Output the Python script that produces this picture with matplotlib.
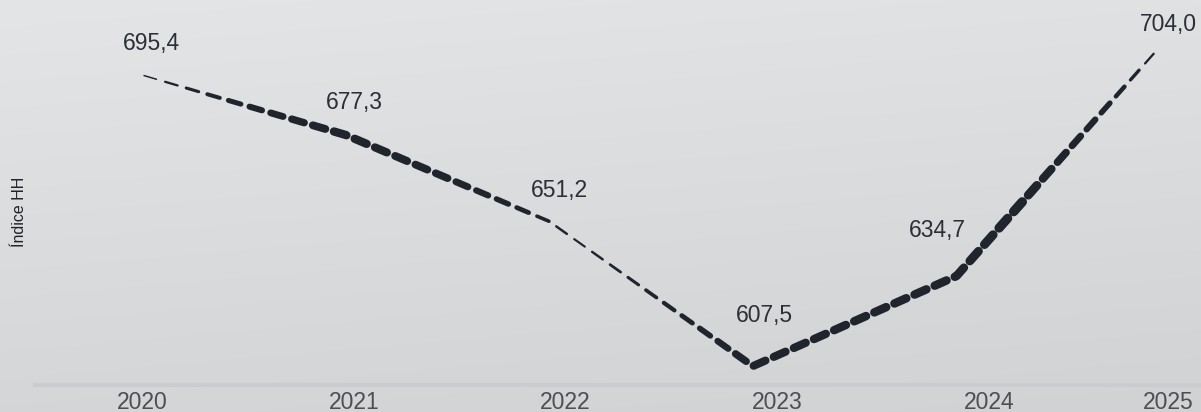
import numpy as np
import matplotlib
matplotlib.use("Agg")
import matplotlib.pyplot as plt
from matplotlib.collections import LineCollection

plt.rcParams['font.family'] = ['Liberation Sans', 'DejaVu Sans']

years = [2020, 2021, 2022, 2023, 2024, 2025]
values = [695.4, 677.3, 651.2, 607.5, 634.7, 704.0]
value_labels = ['695,4', '677,3', '651,2', '607,5', '634,7', '704,0']
tick_labels = ['2020', '2021', '2022', '2023', '2024', '2025']

# tick label positions sit a bit off the points in the original
tick_pos = [2020.0, 2021.04, 2022.08, 2023.12, 2024.16, 2025.04]
# label offsets in pixels (dx, dy)
label_off = [(9, 32), (9, 32), (10, 31), (12, 51), (-19, 46), (8, 22)]

# stroke width profile (px) along x
w_x = [2020.0, 2020.3, 2020.6, 2021.0, 2021.5, 2021.9, 2022.1, 2022.4, 2022.7, 2023.0, 2023.5, 2024.0, 2024.3, 2024.7, 2025.0]
w_px = [1.2, 3.5, 6.5, 8.5, 7.5, 4.5, 2.0, 3.0, 5.0, 8.0, 8.5, 8.5, 9.5, 6.0, 1.5]

W, H = 12.01, 4.12
fig = plt.figure(figsize=(W, H), dpi=100)

# background gradient
bg = fig.add_axes([0, 0, 1, 1])
gy, gx = np.mgrid[0:1:200j, 0:1:400j]
t = 0.8 * gy + 0.2 * gx
top = np.array([0xe4, 0xe5, 0xe7]) / 255
bot = np.array([0xd1, 0xd2, 0xd4]) / 255
img = top[None, None, :] * (1 - t[..., None]) + bot[None, None, :] * t[..., None]
bg.imshow(img, aspect='auto', extent=[0, 1, 1, 0])
bg.set_axis_off()

ax = fig.add_axes([35 / 1201, 1 - 385 / 412, 1 - 35 / 1201, 385 / 412])
ax.patch.set_alpha(0)
ax.set_xlim(2019.474, 2025.201)
ax.set_ylim(601.8, 718.05)

for s in ['top', 'right', 'left']:
    ax.spines[s].set_visible(False)
ax.spines['bottom'].set_color('#cbcccf')
ax.spines['bottom'].set_linewidth(3)
ax.set_yticks([])
ax.set_xticks(tick_pos)
ax.set_xticklabels(tick_labels, fontsize=16.5, color='#4d4f53')
ax.tick_params(axis='x', length=0, pad=4)
ax.set_ylabel('Índice HH', fontsize=11.5, color='#1f2227')
ax.yaxis.set_label_coords(-8 / 1166, 0.45)

# dashed stroke with varying width, built in display space
pts = ax.transData.transform(np.column_stack([years, values]))
seg = np.diff(pts, axis=0)
seglen = np.hypot(seg[:, 0], seg[:, 1])
cum = np.concatenate([[0], np.cumsum(seglen)])
total = cum[-1]

def at(s):
    i = min(np.searchsorted(cum, s, side='right') - 1, len(seglen) - 1)
    f = (s - cum[i]) / seglen[i]
    return pts[i] + f * seg[i]

dash, gap = 13.0, 9.0
inv = ax.transData.inverted()
lines, widths = [], []
s = 2.0
while s < total - 2:
    e = min(s + dash, total - 6)
    ss = [s] + [c for c in cum if s < c < e] + [e]
    p = np.array([at(v) for v in ss])
    mid = at((s + e) / 2)
    xm = inv.transform(mid)[0]
    lw = np.interp(xm, w_x, w_px)
    lines.append(inv.transform(p))
    widths.append(lw * 0.72)
    s += dash + gap

lc = LineCollection(lines, linewidths=widths, colors='#20252d', capstyle='round', joinstyle='round')
ax.add_collection(lc)

for x, y, lab, (dx, dy) in zip(years, values, value_labels, label_off):
    ax.annotate(lab, (x, y), xytext=(dx * 0.72, dy * 0.72), textcoords='offset points',
                ha='center', va='center', fontsize=16.5, color='#2b2f36', annotation_clip=False)

fig.savefig('out.png', dpi=100)
